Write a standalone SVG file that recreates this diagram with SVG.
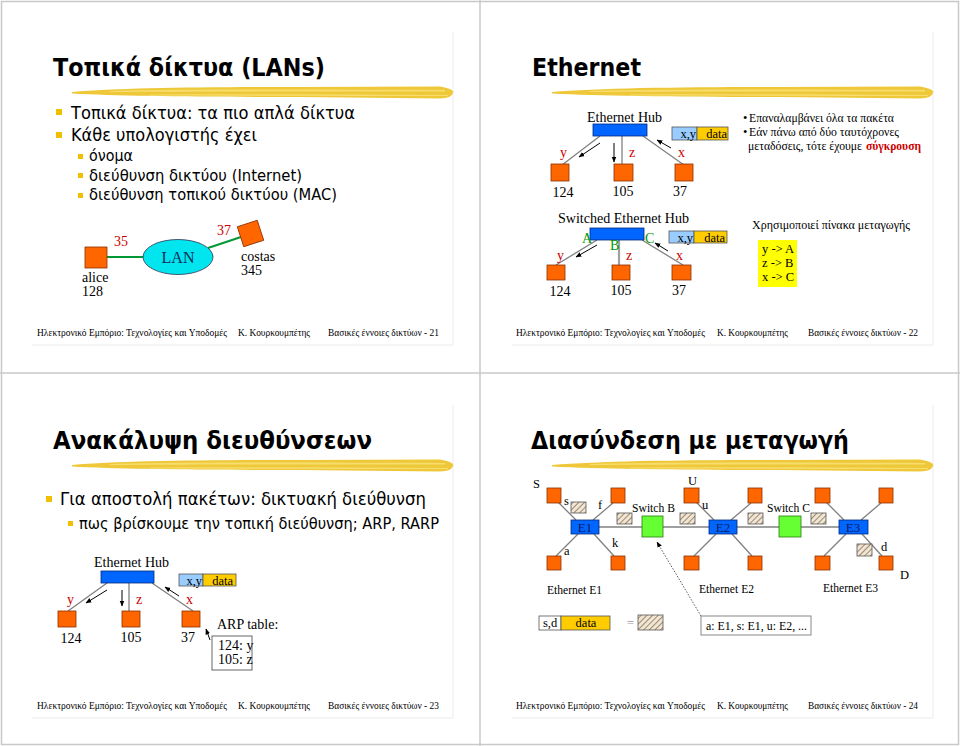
<svg xmlns="http://www.w3.org/2000/svg" width="960" height="746" viewBox="0 0 960 746">
<style>
.title{font-family:"DejaVu Sans","Liberation Sans",sans-serif;font-weight:bold;font-size:25px;fill:#000}
.b1{font-family:"DejaVu Sans","Liberation Sans",sans-serif;font-size:18px;fill:#000}
.b2{font-family:"DejaVu Sans","Liberation Sans",sans-serif;font-size:15.5px;fill:#000}
.t{font-family:"Liberation Serif",serif;font-size:14px;fill:#000}
.ts{font-family:"Liberation Serif",serif;font-size:12.5px;fill:#000}
.red{font-family:"Liberation Serif",serif;font-size:14px;fill:#cc0000}
.grn{font-family:"Liberation Serif",serif;font-size:14px;fill:#009900}
.foot{font-family:"Liberation Serif",serif;font-size:10px;fill:#000}
.node{fill:#ff6600;stroke:#8a3000;stroke-width:0.8}
.hub{fill:#0066ff;stroke:#002a80;stroke-width:0.8}
.sw{fill:#66ff33;stroke:#2a7a10;stroke-width:0.8}
.pk1{fill:#99ccff;stroke:#555;stroke-width:0.8}
.pk2{fill:#ffcc00;stroke:#555;stroke-width:0.8}
.hatch{fill:url(#hatch);stroke:#555;stroke-width:0.8}
.ln{stroke:#808080;stroke-width:1.3;fill:none}
.ln2{stroke:#a0a0a0;stroke-width:2.2;fill:none}
.arr{stroke:#000;stroke-width:1;fill:none;marker-end:url(#ah)}
.brush{fill:#eec838}
.brush2{fill:#f8e27a;opacity:0.8}
.bul{fill:#f0c000}
.elbl{font-family:"Liberation Serif",serif;font-size:13px;fill:#0a1a60}
.alert{font-family:"Liberation Serif",serif;font-size:12.5px;font-weight:bold;fill:#cc0000}
.eq{font-family:"Liberation Serif",serif;font-size:12.5px;fill:#999}
</style>
<defs>
<marker id="ah" viewBox="0 0 10 10" refX="9" refY="5" markerWidth="6" markerHeight="6" orient="auto" markerUnits="userSpaceOnUse">
<path d="M0,1 L10,5 L0,9 z" fill="#000"/>
</marker>
<pattern id="hatch" patternUnits="userSpaceOnUse" width="4" height="4" patternTransform="rotate(45)">
<rect width="4" height="4" fill="#efe6d6"/>
<line x1="0" y1="0" x2="0" y2="4" stroke="#8c7050" stroke-width="1.6"/>
</pattern>
<g id="brushShape">
<path class="brush" d="M72,92 C120,88 200,87 300,87 L440,86.5 Q455,89 453,93 Q452,98 440,98.5 L300,97 C200,97 120,96 72,93.5 Z"/>
<path class="brush2" d="M110,91 C200,89 300,89.5 445,90 L445,91.5 C300,91.5 200,91 110,92 Z"/>
<path class="brush2" d="M150,94.5 C250,94 350,94.5 448,95 L448,96 C350,96 250,95.5 150,95.5 Z"/>
</g>
</defs>
<rect x="0" y="0" width="960" height="746" fill="#ffffff"/>
<rect x="1.5" y="1.5" width="957" height="743" fill="none" stroke="#c8c8c8" stroke-width="1.5"/>
<line x1="480" y1="0" x2="480" y2="746" stroke="#c8c8c8" stroke-width="1.5"/>
<line x1="0" y1="373" x2="960" y2="373" stroke="#c8c8c8" stroke-width="1.5"/>
<g stroke="#ececec" stroke-width="1" fill="none">
<path d="M453,32 V345 H32"/>
<path d="M933,32 V345 H512"/>
<path d="M453,405 V718 H32"/>
<path d="M933,405 V718 H512"/>
</g>

<!-- Slide 1 -->
<g id="slide1">
<text class="title" x="53" y="76" textLength="272" lengthAdjust="spacingAndGlyphs">Τοπικά δίκτυα (LANs)</text>
<use href="#brushShape"/>
<rect class="bul" x="56" y="109" width="6" height="6"/>
<text class="b1" x="71" y="119" textLength="284" lengthAdjust="spacingAndGlyphs">Τοπικά δίκτυα: τα πιο απλά δίκτυα</text>
<rect class="bul" x="56" y="132" width="6" height="6"/>
<text class="b1" x="71" y="141" textLength="186" lengthAdjust="spacingAndGlyphs">Κάθε υπολογιστής έχει</text>
<rect class="bul" x="78" y="154" width="5" height="5"/>
<text class="b2" x="89" y="161" textLength="44" lengthAdjust="spacingAndGlyphs">όνομα</text>
<rect class="bul" x="78" y="173" width="5" height="5"/>
<text class="b2" x="89" y="181" textLength="213" lengthAdjust="spacingAndGlyphs">διεύθυνση δικτύου (Internet)</text>
<rect class="bul" x="78" y="193" width="5" height="5"/>
<text class="b2" x="89" y="200" textLength="248" lengthAdjust="spacingAndGlyphs">διεύθυνση τοπικού δικτύου (MAC)</text>
<g id="s1-connectors">
<line x1="107" y1="257" x2="143" y2="257" stroke="#009933" stroke-width="2"/>
<line x1="208" y1="248" x2="241" y2="237" stroke="#009933" stroke-width="2"/>
</g>
<g id="s1-alice">
<rect class="node" x="85" y="247" width="22" height="21"/>
<text class="t" x="82" y="282">alice</text>
<text class="t" x="82" y="296">128</text>
</g>
<g id="s1-lan">
<ellipse cx="178" cy="257" rx="35" ry="17.5" fill="#00e5ee" stroke="#335" stroke-width="0.8"/>
<text x="178" y="263" text-anchor="middle" font-family="Liberation Serif,serif" font-size="16" fill="#0a2a5a">LAN</text>
</g>
<g id="s1-costas">
<rect class="node" x="-10.5" y="-10.5" width="21" height="21" transform="translate(250.5,233.5) rotate(-18)"/>
<text class="t" x="241" y="261">costas</text>
<text class="t" x="241" y="275">345</text>
</g>
<text class="red" x="114" y="246" font-size="13">35</text>
<text class="red" x="217" y="235" font-size="13">37</text>
<text class="foot" x="37" y="336" textLength="190" lengthAdjust="spacingAndGlyphs">Ηλεκτρονικό Εμπόριο: Τεχνολογίες και Υποδομές</text>
<text class="foot" x="238" y="336" textLength="72" lengthAdjust="spacingAndGlyphs">Κ. Κουρκουμπέτης</text>
<text class="foot" x="328" y="336" textLength="111" lengthAdjust="spacingAndGlyphs">Βασικές έννοιες δικτύων - 21</text>
</g>

<!-- Slide 2 -->
<g id="slide2">
<text class="title" x="532" y="76" textLength="109" lengthAdjust="spacingAndGlyphs">Ethernet</text>
<use href="#brushShape" transform="translate(480,0)"/>
<g id="s2-connectors">
<line class="ln" x1="600" y1="136" x2="562" y2="165"/>
<line class="ln" x1="622" y1="136" x2="622" y2="165"/>
<line class="ln" x1="643" y1="136" x2="684" y2="165"/>
<line class="arr" x1="600" y1="143" x2="579" y2="157"/>
<line class="arr" x1="614" y1="143" x2="614" y2="162"/>
<line class="arr" x1="671" y1="148" x2="657" y2="140"/>
<line class="ln" x1="597" y1="240" x2="556" y2="265"/>
<line class="ln2" x1="619" y1="240" x2="619" y2="265"/>
<line class="ln" x1="642" y1="240" x2="683" y2="265"/>
<line class="arr" x1="597" y1="245" x2="576" y2="257"/>
<line class="arr" x1="668" y1="251" x2="655" y2="243"/>
</g>
<g id="s2-hub">
<text class="t" x="587" y="122" font-size="14.5" textLength="75" lengthAdjust="spacingAndGlyphs">Ethernet Hub</text>
<rect class="hub" x="593" y="124" width="54" height="12"/>
</g>
<g id="s2-packet">
<rect class="pk1" x="672" y="127" width="25" height="13"/>
<rect class="pk2" x="697" y="127" width="31" height="13"/>
<text class="ts" x="696" y="138" text-anchor="end" font-size="13">x,y</text>
<text class="ts" x="727" y="138" text-anchor="end" font-size="13">data</text>
</g>
<g id="s2-n124"><rect class="node" x="551" y="164" width="18" height="17"/><text class="t" x="563" y="197" text-anchor="middle">124</text><text class="red" x="560" y="157">y</text></g>
<g id="s2-n105"><rect class="node" x="614" y="164" width="19" height="17"/><text class="t" x="623" y="196" text-anchor="middle">105</text><text class="red" x="629" y="157">z</text></g>
<g id="s2-n37"><rect class="node" x="675" y="164" width="18" height="17"/><text class="t" x="680" y="196" text-anchor="middle">37</text><text class="red" x="678" y="157">x</text></g>
<g id="s2-switch">
<text class="t" x="558" y="223" font-size="14.5" textLength="131" lengthAdjust="spacingAndGlyphs">Switched Ethernet Hub</text>
<rect class="hub" x="590" y="228" width="54" height="12"/>
<text class="grn" x="582" y="243">A</text>
<text class="grn" x="610" y="250">B</text>
<text class="grn" x="645" y="243">C</text>
</g>
<g id="s2-packet2">
<rect class="pk1" x="669" y="231" width="25" height="12"/>
<rect class="pk2" x="694" y="231" width="33" height="12"/>
<text class="ts" x="693" y="242" text-anchor="end" font-size="13">x,y</text>
<text class="ts" x="725" y="242" text-anchor="end" font-size="13">data</text>
</g>
<g id="s2-m124"><rect class="node" x="547" y="265" width="18" height="15"/><text class="t" x="560" y="296" text-anchor="middle">124</text><text class="red" x="557" y="260">y</text></g>
<g id="s2-m105"><rect class="node" x="612" y="265" width="18" height="15"/><text class="t" x="621" y="295" text-anchor="middle">105</text><text class="red" x="626" y="260">z</text></g>
<g id="s2-m37"><rect class="node" x="672" y="265" width="19" height="15"/><text class="t" x="679" y="295" text-anchor="middle">37</text><text class="red" x="676" y="260">x</text></g>
<g id="s2-text">
<text class="ts" x="743" y="122">•</text>
<text class="ts" x="749" y="122" textLength="145" lengthAdjust="spacingAndGlyphs">Επαναλαμβάνει όλα τα πακέτα</text>
<text class="ts" x="743" y="136">•</text>
<text class="ts" x="749" y="136" textLength="150" lengthAdjust="spacingAndGlyphs">Εάν πάνω από δύο ταυτόχρονες</text>
<text class="ts" x="748" y="150" textLength="114" lengthAdjust="spacingAndGlyphs">μεταδόσεις, τότε έχουμε</text>
<text class="alert" x="866" y="150" textLength="55" lengthAdjust="spacingAndGlyphs">σύγκρουση</text>
<text class="ts" x="752" y="229" textLength="158" lengthAdjust="spacingAndGlyphs">Χρησιμοποιεί  πίνακα μεταγωγής</text>
</g>
<g id="s2-table">
<rect x="758" y="240" width="39" height="47" fill="#ffff00"/>
<text class="ts" x="762" y="253">y -&gt; A</text>
<text class="ts" x="762" y="267">z -&gt; B</text>
<text class="ts" x="762" y="281">x -&gt; C</text>
</g>
<text class="foot" x="516" y="336" textLength="189" lengthAdjust="spacingAndGlyphs">Ηλεκτρονικό Εμπόριο: Τεχνολογίες και Υποδομές</text>
<text class="foot" x="717" y="336" textLength="71" lengthAdjust="spacingAndGlyphs">Κ. Κουρκουμπέτης</text>
<text class="foot" x="808" y="336" textLength="110" lengthAdjust="spacingAndGlyphs">Βασικές έννοιες δικτύων - 22</text>
</g>

<!-- Slide 3 -->
<g id="slide3">
<text class="title" x="53" y="449" textLength="319" lengthAdjust="spacingAndGlyphs">Ανακάλυψη διευθύνσεων</text>
<use href="#brushShape" transform="translate(0,373)"/>
<rect class="bul" x="46" y="496" width="6" height="6"/>
<text class="b1" x="60" y="505" textLength="366" lengthAdjust="spacingAndGlyphs">Για αποστολή πακέτων: δικτυακή διεύθυνση</text>
<rect class="bul" x="68" y="521" width="5" height="5"/>
<text class="b2" x="79" y="529" textLength="360" lengthAdjust="spacingAndGlyphs">πως βρίσκουμε την τοπική διεύθυνση; ARP, RARP</text>
<g id="s3-connectors">
<line class="ln" x1="107" y1="583" x2="68" y2="611"/>
<line class="ln" x1="129" y1="583" x2="129" y2="611"/>
<line class="ln" x1="152" y1="583" x2="193" y2="611"/>
<line class="arr" x1="107" y1="590" x2="86" y2="603"/>
<line class="arr" x1="122" y1="590" x2="122" y2="606"/>
<line class="arr" x1="179" y1="596" x2="165" y2="587"/>
<line class="arr" x1="210" y1="640" x2="206" y2="629"/>
</g>
<g id="s3-hub">
<text class="t" x="94" y="567" font-size="14.5" textLength="75" lengthAdjust="spacingAndGlyphs">Ethernet Hub</text>
<rect class="hub" x="101" y="571" width="53" height="12"/>
</g>
<g id="s3-packet">
<rect class="pk1" x="179" y="574" width="24" height="12"/>
<rect class="pk2" x="203" y="574" width="33" height="12"/>
<text class="ts" x="202" y="585" text-anchor="end" font-size="13">x,y</text>
<text class="ts" x="233" y="585" text-anchor="end" font-size="13">data</text>
</g>
<g id="s3-n124"><rect class="node" x="58" y="611" width="18" height="16"/><text class="t" x="71" y="643" text-anchor="middle">124</text><text class="red" x="67" y="604">y</text></g>
<g id="s3-n105"><rect class="node" x="122" y="611" width="18" height="16"/><text class="t" x="131" y="642" text-anchor="middle">105</text><text class="red" x="136" y="604">z</text></g>
<g id="s3-n37"><rect class="node" x="182" y="611" width="18" height="16"/><text class="t" x="188" y="642" text-anchor="middle">37</text><text class="red" x="186" y="604">x</text></g>
<g id="s3-arp">
<text class="t" x="217" y="629">ARP table:</text>
<rect x="212" y="636" width="40" height="34" fill="#fff" stroke="#666" stroke-width="1"/>
<text class="t" x="218" y="650">124: y</text>
<text class="t" x="218" y="664">105: z</text>
</g>
<text class="foot" x="37" y="709" textLength="190" lengthAdjust="spacingAndGlyphs">Ηλεκτρονικό Εμπόριο: Τεχνολογίες και Υποδομές</text>
<text class="foot" x="238" y="709" textLength="72" lengthAdjust="spacingAndGlyphs">Κ. Κουρκουμπέτης</text>
<text class="foot" x="328" y="709" textLength="111" lengthAdjust="spacingAndGlyphs">Βασικές έννοιες δικτύων - 23</text>
</g>

<!-- Slide 4 -->
<g id="slide4">
<text class="title" x="531" y="449" textLength="318" lengthAdjust="spacingAndGlyphs">Διασύνδεση με μεταγωγή</text>
<use href="#brushShape" transform="translate(480,373)"/>
<g id="s4-connectors">
<line class="ln" x1="599" y1="527" x2="642" y2="527"/>
<line class="ln" x1="663" y1="527" x2="709" y2="527"/>
<line class="ln" x1="737" y1="527" x2="779" y2="527"/>
<line class="ln" x1="801" y1="527" x2="839" y2="527"/>
<g id="e1-links">
<line class="ln" x1="558" y1="502" x2="576" y2="520"/>
<line class="ln" x1="613" y1="503" x2="593" y2="520"/>
<line class="ln" x1="578" y1="534" x2="556" y2="556"/>
<line class="ln" x1="594" y1="534" x2="614" y2="556"/>
</g>
<use href="#e1-links" transform="translate(138,0)"/>
<use href="#e1-links" transform="translate(268,0)"/>
<line x1="701" y1="616" x2="657" y2="542" stroke="#444" stroke-width="0.9" stroke-dasharray="1.5,1.5" marker-end="url(#ah)"/>
</g>
<g id="s4-E1">
<rect class="node" x="547" y="488" width="14" height="15"/>
<rect class="node" x="611" y="488" width="14" height="15"/>
<rect class="node" x="547" y="556" width="14" height="14"/>
<rect class="node" x="611" y="556" width="14" height="14"/>
<rect class="hub" x="571" y="520" width="28" height="14"/>
<text class="elbl" x="585" y="532" text-anchor="middle">E1</text>
<text class="ts" x="547" y="594" font-size="13.5" textLength="55" lengthAdjust="spacingAndGlyphs">Ethernet E1</text>
</g>
<g id="s4-switchB">
<rect class="sw" x="642" y="516" width="21" height="21"/>
<text class="ts" x="632" y="512" font-size="13.5" textLength="43" lengthAdjust="spacingAndGlyphs">Switch B</text>
</g>
<g id="s4-E2">
<rect class="node" x="684" y="488" width="15" height="15"/>
<rect class="node" x="748" y="488" width="14" height="15"/>
<rect class="node" x="684" y="556" width="15" height="14"/>
<rect class="node" x="748" y="556" width="14" height="14"/>
<rect class="hub" x="709" y="520" width="28" height="14"/>
<text class="elbl" x="723" y="532" text-anchor="middle">E2</text>
<text class="ts" x="699" y="593" font-size="13.5" textLength="55" lengthAdjust="spacingAndGlyphs">Ethernet E2</text>
</g>
<g id="s4-switchC">
<rect class="sw" x="779" y="516" width="22" height="21"/>
<text class="ts" x="767" y="512" font-size="13.5" textLength="43" lengthAdjust="spacingAndGlyphs">Switch C</text>
</g>
<g id="s4-E3">
<rect class="node" x="815" y="488" width="15" height="15"/>
<rect class="node" x="879" y="488" width="14" height="15"/>
<rect class="node" x="815" y="556" width="15" height="14"/>
<rect class="node" x="879" y="556" width="14" height="14"/>
<rect class="hub" x="839" y="520" width="29" height="14"/>
<text class="elbl" x="853" y="532" text-anchor="middle">E3</text>
<text class="ts" x="823" y="592" font-size="13.5" textLength="55" lengthAdjust="spacingAndGlyphs">Ethernet E3</text>
</g>
<g id="s4-packets">
<rect class="hatch" x="571" y="502" width="15" height="11"/>
<rect class="hatch" x="617" y="513" width="15" height="11"/>
<rect class="hatch" x="680" y="513" width="15" height="11"/>
<rect class="hatch" x="748" y="513" width="15" height="11"/>
<rect class="hatch" x="811" y="513" width="15" height="11"/>
<rect class="hatch" x="857" y="544" width="15" height="12"/>
</g>
<g id="s4-labels">
<text class="ts" x="533" y="488" font-size="13">S</text>
<text class="ts" x="564" y="505" font-size="13">s</text>
<text class="ts" x="598" y="509" font-size="13">f</text>
<text class="ts" x="688" y="485" font-size="13">U</text>
<text class="ts" x="702" y="509" font-size="13">u</text>
<text class="ts" x="612" y="547" font-size="13">k</text>
<text class="ts" x="564" y="555" font-size="13">a</text>
<text class="ts" x="881" y="551" font-size="13">d</text>
<text class="ts" x="900" y="579" font-size="13">D</text>
</g>
<g id="s4-legend">
<rect x="539" y="616" width="22" height="14" fill="#fff" stroke="#555" stroke-width="0.8"/>
<rect class="pk2" x="561" y="616" width="49" height="14"/>
<text class="ts" x="543" y="627">s,d</text>
<text class="ts" x="586" y="627" text-anchor="middle">data</text>
<text class="eq" x="627" y="627">=</text>
<rect class="hatch" x="638" y="615" width="25" height="15"/>
</g>
<g id="s4-table">
<rect x="701" y="616" width="110" height="19" fill="#fff" stroke="#888" stroke-width="1"/>
<text class="ts" x="706" y="630" textLength="101" lengthAdjust="spacingAndGlyphs">a: E1, s: E1, u: E2, ...</text>
</g>
<text class="foot" x="516" y="709" textLength="189" lengthAdjust="spacingAndGlyphs">Ηλεκτρονικό Εμπόριο: Τεχνολογίες και Υποδομές</text>
<text class="foot" x="717" y="709" textLength="71" lengthAdjust="spacingAndGlyphs">Κ. Κουρκουμπέτης</text>
<text class="foot" x="808" y="709" textLength="110" lengthAdjust="spacingAndGlyphs">Βασικές έννοιες δικτύων - 24</text>
</g>
</svg>
